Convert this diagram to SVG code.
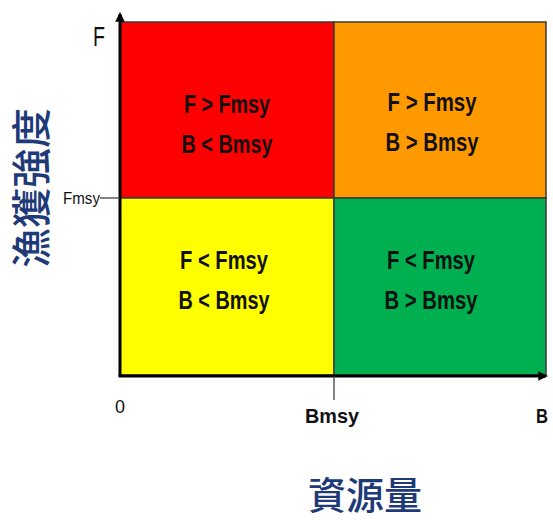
<svg xmlns="http://www.w3.org/2000/svg" width="553" height="520" viewBox="0 0 553 520">
<defs>
<style>
.q{stroke:#3a3a3a;stroke-width:1.5}
.qt{font-family:"Liberation Sans",Arial,sans-serif;font-weight:bold;font-size:26px;fill:#111;text-anchor:middle}
.lab{font-family:"Liberation Sans",Arial,sans-serif;fill:#111}
.cjk{font-family:"Noto Sans CJK TC","Noto Sans CJK SC",sans-serif;font-weight:500;fill:#1F3A78;text-anchor:middle}
.ax{stroke:#000;stroke-width:3;fill:none}
.tick{stroke:#333;stroke-width:1.2}
</style>
<marker id="ah" viewBox="0 0 10 10" refX="8" refY="5" markerWidth="3.2" markerHeight="3.2" orient="auto" markerUnits="strokeWidth">
<path d="M0,0 L10,5 L0,10 z" fill="#000"/>
</marker>
</defs>
<rect width="553" height="520" fill="#fff"/>
<g id="q-red"><rect class="q" x="120" y="22" width="214" height="176" fill="#FF0000"/>
<text class="qt" x="227" y="113" textLength="86" lengthAdjust="spacingAndGlyphs">F &gt; Fmsy</text>
<text class="qt" x="227" y="153" textLength="91" lengthAdjust="spacingAndGlyphs">B &lt; Bmsy</text></g>
<g id="q-orange"><rect class="q" x="334" y="22" width="212" height="176" fill="#FF9900"/>
<text class="qt" x="432" y="111" textLength="89" lengthAdjust="spacingAndGlyphs">F &gt; Fmsy</text>
<text class="qt" x="432" y="151" textLength="93" lengthAdjust="spacingAndGlyphs">B &gt; Bmsy</text></g>
<g id="q-yellow"><rect class="q" x="120" y="198" width="214" height="177" fill="#FFFF00"/>
<text class="qt" x="224" y="269" textLength="88" lengthAdjust="spacingAndGlyphs">F &lt; Fmsy</text>
<text class="qt" x="224" y="309" textLength="91" lengthAdjust="spacingAndGlyphs">B &lt; Bmsy</text></g>
<g id="q-green"><rect class="q" x="334" y="198" width="212" height="177" fill="#00B050"/>
<text class="qt" x="431" y="269" textLength="88" lengthAdjust="spacingAndGlyphs">F &lt; Fmsy</text>
<text class="qt" x="431" y="309" textLength="93" lengthAdjust="spacingAndGlyphs">B &gt; Bmsy</text></g>
<g id="connectors">
<line class="ax" x1="120" y1="376" x2="120" y2="14" marker-end="url(#ah)"/>
<line class="ax" x1="118.5" y1="376" x2="546" y2="376" marker-end="url(#ah)"/>
<line class="tick" x1="100" y1="198" x2="120" y2="198"/>
<line class="tick" x1="334" y1="376" x2="334" y2="400"/>
</g>
<g id="labels">
<text class="lab" x="93" y="46" style="font-size:28px" textLength="12" lengthAdjust="spacingAndGlyphs">F</text>
<text class="lab" x="63" y="204" style="font-size:17px" textLength="37" lengthAdjust="spacingAndGlyphs">Fmsy</text>
<text class="lab" x="115" y="413" style="font-size:19px" textLength="10" lengthAdjust="spacingAndGlyphs">0</text>
<text class="lab" x="305" y="423" style="font-weight:bold;font-size:21px" textLength="54" lengthAdjust="spacingAndGlyphs">Bmsy</text>
<text class="lab" x="536" y="423" style="font-weight:bold;font-size:21px" textLength="12" lengthAdjust="spacingAndGlyphs">B</text>
<text class="cjk" x="365" y="509" style="font-size:38px">資源量</text>
<text class="cjk" transform="translate(46,188) rotate(-90)" style="font-size:40px">漁獲強度</text>
</g>
</svg>
